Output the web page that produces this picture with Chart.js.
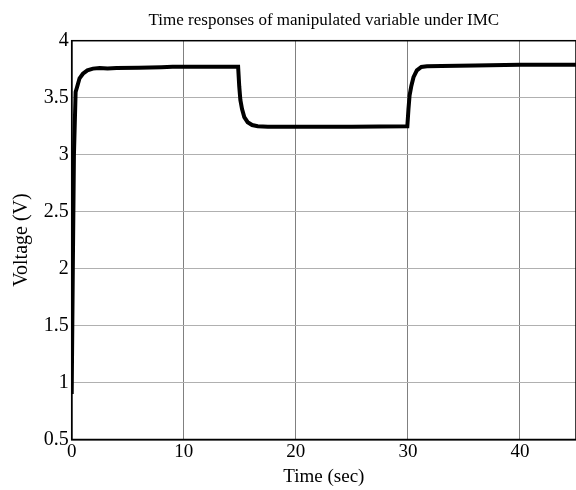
<!DOCTYPE html>
<html>
<head>
<meta charset="utf-8">
<script src="https://cdn.jsdelivr.net/npm/chart.js@4.4.0/dist/chart.umd.min.js"></script>
<style>
  html, body { margin: 0; padding: 0; background: #fff; }
  #wrap { width: 576px; height: 490px; }
</style>
</head>
<body>
<div id="wrap"><canvas id="imcCanvas"></canvas></div>
<script>
    // 資料
    var chartTitle = 'Time responses of manipulated variable under IMC';
    var xTitle = 'Time (sec)';
    var yTitle = 'Voltage (V)';
    var xTicks = [0, 10, 20, 30, 40];
    var yTicks = [0.5, 1, 1.5, 2, 2.5, 3, 3.5, 4];

    var time = [0, 0.1, 0.2, 0.35, 0.5, 0.7, 1.0, 1.4, 1.9, 2.5, 3.2, 4, 6, 8, 9, 12, 14.85,
        14.95, 15.05, 15.2, 15.4, 15.7, 16.1, 16.6, 17.5, 20, 25, 29.95,
        30.05, 30.15, 30.3, 30.5, 30.8, 31.2, 31.7, 33, 36, 40, 45];
    var voltage = [0.9, 2.0, 3.0, 3.55, 3.6, 3.67, 3.71, 3.74, 3.755, 3.76, 3.755, 3.76, 3.762, 3.768, 3.772, 3.772, 3.772,
        3.6, 3.48, 3.4, 3.33, 3.285, 3.26, 3.25, 3.245, 3.245, 3.245, 3.25,
        3.4, 3.52, 3.6, 3.68, 3.74, 3.77, 3.775, 3.778, 3.782, 3.79, 3.79];

    var serif = 'Liberation Serif, Times New Roman, serif';

    // 外框
    var framePlugin = {
        id: 'frame',
        afterDraw: function (chart) {
            var a = chart.chartArea;
            var ctx = chart.ctx;
            ctx.save();
            ctx.strokeStyle = '#000';
            ctx.lineWidth = 1.5;
            ctx.strokeRect(a.left, a.top, a.right - a.left, a.bottom - a.top);
            ctx.restore();
        }
    };

    window.onload = function () {
        var points = time.map(function (t, i) {
            return { x: t, y: voltage[i] };
        });
        var ctx = document.getElementById('imcCanvas').getContext('2d');
        window.myLine = new Chart(ctx, {
            type: 'line',
            data: {
                datasets: [{
                    data: points,
                    borderColor: '#000',
                    borderWidth: 4,
                    pointRadius: 0,
                    tension: 0,
                    fill: false
                }]
            },
            plugins: [framePlugin],
            options: {
                responsive: true,
                maintainAspectRatio: false,
                animation: false,
                layout: { padding: 0 },
                plugins: {
                    legend: { display: false },
                    tooltip: { enabled: false }
                },
                scales: {
                    x: {
                        type: 'linear',
                        position: 'bottom',
                        min: 0,
                        max: 45,
                        afterBuildTicks: function (scale) {
                            scale.ticks = xTicks.map(function (v) { return { value: v }; });
                        },
                        afterFit: function (scale) { scale.height = 50.5; },
                        ticks: {
                            color: '#000',
                            padding: 1,
                            maxRotation: 0,
                            font: { family: serif, size: 19 },
                            callback: function (v) { return String(v); }
                        },
                        grid: { color: '#808080', lineWidth: 1, drawTicks: false },
                        border: { color: '#000', width: 1.5 },
                        title: {
                            display: true,
                            text: xTitle,
                            color: '#000',
                            padding: { top: 0, bottom: 2 },
                            font: { family: serif, size: 19 }
                        }
                    },
                    xTop: {
                        type: 'linear',
                        position: 'top',
                        min: 0,
                        max: 45,
                        afterFit: function (scale) { scale.height = 40.7; },
                        ticks: { display: false },
                        grid: { display: false },
                        border: { display: false },
                        title: {
                            display: true,
                            text: chartTitle,
                            color: '#000',
                            padding: { top: 10, bottom: 0 },
                            font: { family: serif, size: 17 }
                        }
                    },
                    y: {
                        min: 0.5,
                        max: 4,
                        afterBuildTicks: function (scale) {
                            scale.ticks = yTicks.map(function (v) { return { value: v }; });
                        },
                        afterFit: function (scale) { scale.width = 71.7; },
                        ticks: {
                            color: '#000',
                            padding: 3,
                            font: { family: serif, size: 20 },
                            callback: function (v) { return String(v); }
                        },
                        grid: { color: '#b0b0b0', lineWidth: 1, drawTicks: false },
                        border: { color: '#000', width: 1.5 },
                        title: {
                            display: true,
                            text: yTitle,
                            color: '#000',
                            padding: { top: 10, bottom: 0 },
                            font: { family: serif, size: 20 }
                        }
                    }
                }
            }
        });
    };
</script>
</body>
</html>
